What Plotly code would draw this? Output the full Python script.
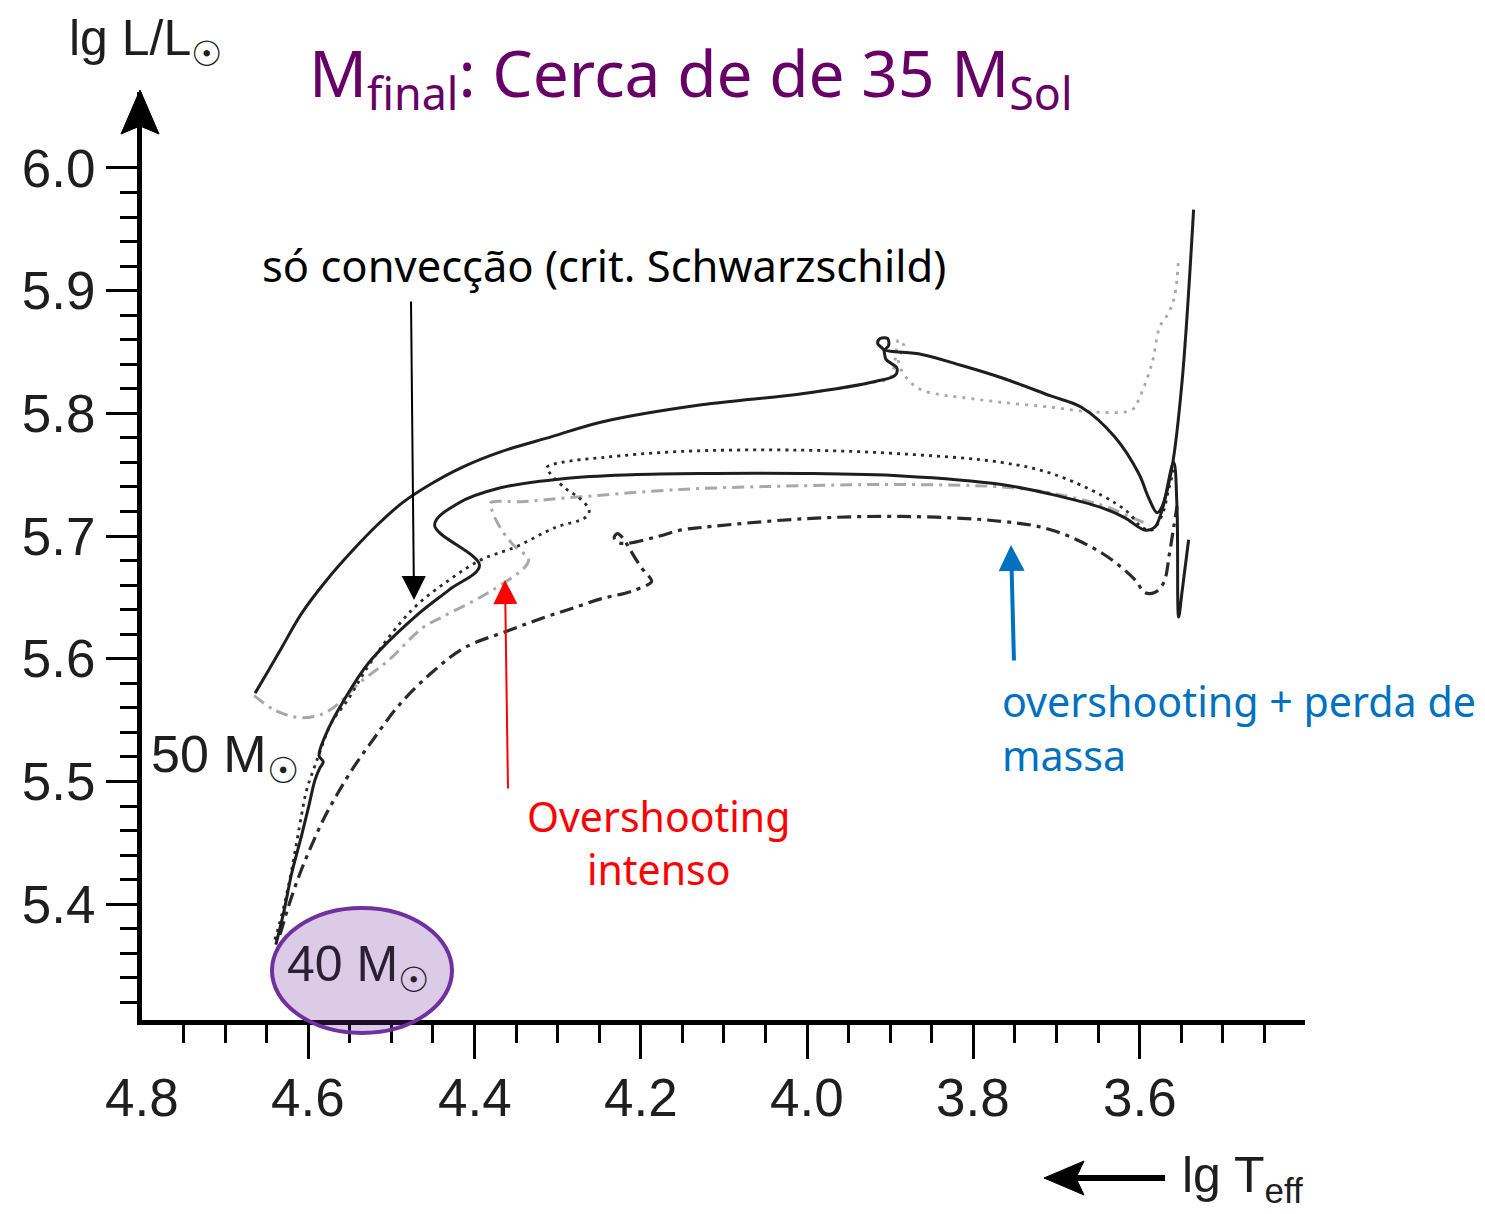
import plotly.graph_objects as go

# ---- evolutionary tracks in the HR diagram (lg Teff, lg L/Lsun) ----
# 50 Msun, Schwarzschild criterion (solid, upper)
t50_std = [4.664, 4.650, 4.632, 4.608, 4.578, 4.547, 4.517, 4.487, 4.451, 4.415, 4.367, 4.307,
           4.247, 4.127, 4.006, 3.918, 3.894, 3.892, 3.905, 3.908, 3.915, 3.912, 3.903, 3.902,
           3.906, 3.862, 3.814, 3.766, 3.706, 3.670, 3.630, 3.601, 3.589, 3.579, 3.573, 3.561,
           3.549, 3.535]
l50_std = [5.572, 5.588, 5.609, 5.637, 5.664, 5.688, 5.709, 5.727, 5.743, 5.756, 5.769, 5.781,
           5.793, 5.807, 5.816, 5.826, 5.831, 5.837, 5.844, 5.852, 5.857, 5.861, 5.861, 5.855,
           5.852, 5.848, 5.839, 5.829, 5.814, 5.805, 5.781, 5.751, 5.731, 5.719, 5.724, 5.756,
           5.825, 5.966]

# 50 Msun, alternative run (light grey dotted, after the hook)
t50_alt = [4.006, 3.922, 3.900, 3.894, 3.890, 3.884, 3.890, 3.878, 3.862, 3.838, 3.814, 3.766,
           3.706, 3.654, 3.609, 3.600, 3.585, 3.576, 3.565, 3.558, 3.553]
l50_alt = [5.816, 5.825, 5.829, 5.844, 5.860, 5.856, 5.842, 5.827, 5.819, 5.815, 5.813, 5.809,
           5.805, 5.801, 5.803, 5.813, 5.841, 5.870, 5.882, 5.895, 5.927]

# 40 Msun, Schwarzschild criterion (solid, lower)
t40_std = [4.639, 4.629, 4.620, 4.608, 4.599, 4.592, 4.586, 4.582, 4.587, 4.575, 4.559, 4.527,
           4.472, 4.431, 4.394, 4.448, 4.419, 4.371, 4.291, 4.211, 4.127, 4.006, 3.886, 3.766,
           3.706, 3.645, 3.618, 3.594, 3.582, 3.573, 3.559, 3.555, 3.553, 3.549, 3.541]
l40_std = [5.367, 5.395, 5.425, 5.456, 5.481, 5.501, 5.511, 5.516, 5.521, 5.544, 5.564, 5.597,
           5.634, 5.656, 5.676, 5.709, 5.727, 5.739, 5.747, 5.750, 5.751, 5.751, 5.749, 5.742,
           5.734, 5.723, 5.715, 5.705, 5.707, 5.721, 5.760, 5.724, 5.634, 5.654, 5.697]

# 40 Msun, dotted run
t40_dot = [4.640, 4.629, 4.620, 4.608, 4.602, 4.593, 4.586, 4.572, 4.553, 4.523, 4.475, 4.431,
           4.391, 4.351, 4.303, 4.267, 4.262, 4.274, 4.291, 4.309, 4.313, 4.295, 4.247, 4.151,
           4.006, 3.886, 3.766, 3.706, 3.645, 3.615, 3.597, 3.585, 3.573, 3.565, 3.559]
l40_dot = [5.371, 5.399, 5.428, 5.473, 5.493, 5.511, 5.524, 5.548, 5.566, 5.599, 5.640, 5.664,
           5.681, 5.691, 5.707, 5.715, 5.721, 5.731, 5.739, 5.751, 5.756, 5.760, 5.764, 5.769,
           5.770, 5.767, 5.760, 5.751, 5.733, 5.720, 5.707, 5.705, 5.717, 5.738, 5.754]

# strong overshooting (light grey dash-dot)
t_ovs = [4.665, 4.640, 4.611, 4.587, 4.568, 4.539, 4.503, 4.463, 4.439, 4.383, 4.339, 4.335,
         4.355, 4.371, 4.379, 4.381, 4.343, 4.291, 4.151, 4.006, 3.886, 3.766, 3.706, 3.645,
         3.609, 3.588]
l_ovs = [5.570, 5.558, 5.552, 5.554, 5.561, 5.580, 5.599, 5.625, 5.634, 5.654, 5.675, 5.681,
         5.694, 5.709, 5.721, 5.727, 5.728, 5.731, 5.738, 5.741, 5.742, 5.740, 5.735, 5.725,
         5.715, 5.709]

# overshooting + mass loss (black dash-dot)
t_ml = [4.634, 4.622, 4.610, 4.596, 4.581, 4.564, 4.545, 4.521, 4.491, 4.451, 4.412, 4.359,
        4.319, 4.283, 4.247, 4.211, 4.187, 4.190, 4.199, 4.213, 4.220, 4.228, 4.232, 4.228,
        4.217, 4.183, 4.151, 4.127, 4.006, 3.886, 3.766, 3.706, 3.645, 3.605, 3.594, 3.582,
        3.571, 3.564, 3.559, 3.555]
l_ml = [5.375, 5.402, 5.425, 5.448, 5.470, 5.491, 5.512, 5.535, 5.562, 5.589, 5.609, 5.623,
        5.633, 5.641, 5.649, 5.655, 5.663, 5.667, 5.674, 5.689, 5.697, 5.702, 5.699, 5.695,
        5.694, 5.699, 5.705, 5.707, 5.714, 5.716, 5.712, 5.705, 5.686, 5.664, 5.654, 5.654,
        5.662, 5.686, 5.707, 5.724]

# ---- axes ----
x_range = [4.8, 3.401]
y_range = [5.3056, 6.0619]
x_labels = [4.8, 4.6, 4.4, 4.2, 4.0, 3.8, 3.6]
x_labels_text = ["4.8", "4.6", "4.4", "4.2", "4.0", "3.8", "3.6"]
x_major = [4.6, 4.4, 4.2, 4.0, 3.8, 3.6]
x_minor = [4.75, 4.70, 4.65, 4.55, 4.50, 4.45, 4.35, 4.30, 4.25, 4.15, 4.10, 4.05,
           3.95, 3.90, 3.85, 3.75, 3.70, 3.65, 3.55, 3.50, 3.45]
y_major = [5.4, 5.5, 5.6, 5.7, 5.8, 5.9, 6.0]
y_major_text = ["5.4", "5.5", "5.6", "5.7", "5.8", "5.9", "6.0"]
y_minor = [5.32, 5.34, 5.36, 5.38, 5.42, 5.44, 5.46, 5.48, 5.52, 5.54, 5.56, 5.58,
           5.62, 5.64, 5.66, 5.68, 5.72, 5.74, 5.76, 5.78, 5.82, 5.84, 5.86, 5.88,
           5.92, 5.94, 5.96, 5.98]

AX_FONT = "Liberation Sans"
TXT_FONT = "Noto Sans"
INK = "#1e1e1e"
GREY = "#a8a8a8"

fig = go.Figure()

def track(t, l, color, dash, width):
    fig.add_trace(go.Scatter(x=t, y=l, mode="lines",
                             line=dict(color=color, dash=dash, width=width,
                                       shape="spline", smoothing=1.0),
                             hoverinfo="skip", showlegend=False))

track(t_ovs, l_ovs, GREY, "12px,6px,3px,6px", 3)
track(t50_alt, l50_alt, GREY, "3px,6px", 2.8)
track(t_ml, l_ml, "#2a2a2a", "14px,6px,4px,6px", 3.2)
track(t40_dot, l40_dot, "#2a2a2a", "3px,5px", 2.8)
track(t50_std, l50_std, INK, "solid", 3)
track(t40_std, l40_std, INK, "solid", 3)

fig.update_xaxes(
    range=x_range, showgrid=False, zeroline=False,
    showline=True, linewidth=5, linecolor="black",
    ticks="outside", tickvals=x_major, showticklabels=False,
    ticklen=34, tickwidth=3, tickcolor="black",
    minor=dict(tickvals=x_minor, ticks="outside", ticklen=18, tickwidth=3,
               tickcolor="black", showgrid=False),
)
fig.update_yaxes(
    range=y_range, showgrid=False, zeroline=False,
    showline=True, linewidth=5, linecolor="black",
    ticks="outside", tickvals=y_major, ticktext=y_major_text,
    ticklen=31, tickwidth=3, tickcolor="black",
    tickfont=dict(family=AX_FONT, size=53, color=INK),
    minor=dict(tickvals=y_minor, ticks="outside", ticklen=17, tickwidth=3,
               tickcolor="black", showgrid=False),
)

# paper-coordinate helpers for decorations placed around the frame
W, H = 1485, 1214
ML, MR, MT, MB = 142, 180, 92, 194
PW, PH = W - ML - MR, H - MT - MB

def px(xp):
    return (xp - ML) / PW

def py(yp):
    return (H - MB - yp) / PH

shapes = []
# arrowhead on top of the luminosity axis
shapes.append(dict(type="path", xref="paper", yref="paper",
                   path=f"M {px(140)} {py(90)} L {px(121)} {py(134)} L {px(140)} {py(126)} "
                        f"L {px(159)} {py(134)} Z",
                   fillcolor="black", line=dict(color="black", width=1)))
# temperature direction arrow below the axis
shapes.append(dict(type="line", xref="paper", yref="paper",
                   x0=px(1165), x1=px(1075), y0=py(1178), y1=py(1178),
                   line=dict(color="black", width=6)))
shapes.append(dict(type="path", xref="paper", yref="paper",
                   path=f"M {px(1044)} {py(1178)} L {px(1084)} {py(1161)} L {px(1076)} {py(1178)} "
                        f"L {px(1084)} {py(1195)} Z",
                   fillcolor="black", line=dict(color="black", width=1)))
# highlight around the 40 Msun label
shapes.append(dict(type="circle", xref="paper", yref="paper", layer="above",
                   x0=px(272), x1=px(452), y0=py(1033), y1=py(908),
                   fillcolor="rgba(112,48,160,0.25)",
                   line=dict(color="#7030a0", width=4)))

annotations = []

def note(text, x, y, size, color, font=TXT_FONT, xanchor="center", yanchor="middle", align="center"):
    annotations.append(dict(text=text, x=px(x), y=py(y), xref="paper", yref="paper",
                            showarrow=False, xanchor=xanchor, yanchor=yanchor, align=align,
                            font=dict(family=font, size=size, color=color)))

note("M<sub>final</sub>: Cerca de de 35 M<sub>Sol</sub>", 691, 76, 64, "#660066")
note("só convecção (crit. Schwarzschild)", 604, 265, 43.5, "black")
note("Overshooting<br>intenso", 658, 843, 41, "#ff0000")
note("overshooting + perda de<br>massa", 1000, 728, 41.2, "#0070c0", xanchor="left", align="left")
note("50 M<sub>☉</sub>", 149, 758, 52, INK, font=AX_FONT, xanchor="left")
note("40 M<sub>☉</sub>", 358, 967, 50, "#2b1f33", font=AX_FONT)
note("lg L/L<sub>☉</sub>", 67, 42, 50, INK, font=AX_FONT, xanchor="left")
note("lg T<sub>eff</sub>", 1180, 1178, 50, INK, font=AX_FONT, xanchor="left")

# temperature tick labels, placed on the data axis
for v, s in zip(x_labels, x_labels_text):
    annotations.append(dict(text=s, x=v, y=py(1097), xref="x", yref="paper",
                            showarrow=False, xanchor="center", yanchor="middle",
                            font=dict(family=AX_FONT, size=53, color=INK)))

# pointer arrows from the labels to the tracks
def pointer(xh, yh, xt, yt, color, width, size):
    annotations.append(dict(text="", x=px(xh), y=py(yh), xref="paper", yref="paper",
                            ax=xt - xh, ay=yt - yh, showarrow=True, arrowhead=2,
                            arrowsize=size, arrowwidth=width, arrowcolor=color, standoff=0))

pointer(414, 600, 411, 300, "black", 2, 2.4)
pointer(505, 580, 508, 790, "#ff0000", 2, 2.4)
pointer(1011, 545, 1014, 662, "#0070c0", 4, 1.3)

fig.update_layout(
    width=W, height=H,
    margin=dict(l=ML, r=MR, t=MT, b=MB, pad=0),
    paper_bgcolor="white", plot_bgcolor="white",
    shapes=shapes, annotations=annotations,
    showlegend=False,
)

fig.write_html("out.html")
